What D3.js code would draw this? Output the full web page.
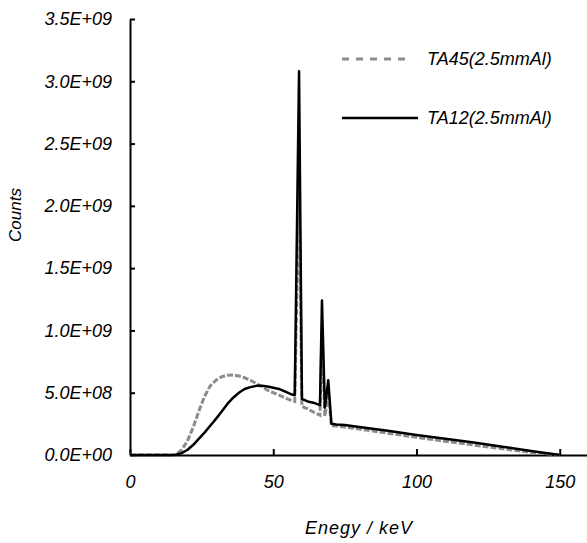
<!DOCTYPE html>
<html>
<head>
<meta charset="utf-8">
<script src="https://cdn.jsdelivr.net/npm/d3@7"></script>
<style>
  body { margin: 0; background: #fff; }
  text { font-family: "Liberation Sans", Arial, sans-serif; font-style: italic; fill: #000; }
  .axis path, .axis line { stroke: #000; stroke-width: 2; }
  .axis text { font-size: 18px; }
</style>
</head>
<body>
<svg id="chart" width="587" height="543"></svg>
<script>
// energy grid (keV) shared by both spectra
const energy = [0, 10, 15, 16, 18, 20, 22, 24, 26, 28, 30, 32, 34, 36, 38, 40, 42, 44, 46, 48, 50,
  52, 54, 56, 57.5, 59, 60, 62, 64, 66.3, 67, 68, 69.2, 70.3, 72, 75, 80, 90, 100, 110, 120, 130, 140, 150];

// TA45 (2.5mmAl) counts
const ta45 = [0, 0, 0, 0.003e9, 0.04e9, 0.11e9, 0.22e9, 0.35e9, 0.47e9, 0.555e9, 0.6e9, 0.628e9, 0.64e9, 0.642e9,
  0.635e9, 0.62e9, 0.6e9, 0.575e9, 0.55e9, 0.52e9, 0.5e9, 0.48e9, 0.46e9, 0.44e9, 0.43e9, 2.2e9, 0.39e9,
  0.37e9, 0.345e9, 0.32e9, 1.0e9, 0.31e9, 0.5e9, 0.235e9, 0.232e9, 0.225e9, 0.208e9, 0.175e9, 0.142e9,
  0.11e9, 0.08e9, 0.05e9, 0.022e9, 0];

// TA12 (2.5mmAl) counts
const ta12 = [0, 0, 0, 0.002e9, 0.015e9, 0.04e9, 0.08e9, 0.13e9, 0.18e9, 0.235e9, 0.29e9, 0.35e9, 0.41e9, 0.46e9,
  0.5e9, 0.53e9, 0.545e9, 0.555e9, 0.555e9, 0.55e9, 0.54e9, 0.53e9, 0.51e9, 0.49e9, 0.48e9, 3.08e9, 0.45e9,
  0.43e9, 0.42e9, 0.4e9, 1.24e9, 0.38e9, 0.6e9, 0.25e9, 0.245e9, 0.24e9, 0.225e9, 0.195e9, 0.16e9,
  0.13e9, 0.1e9, 0.067e9, 0.033e9, 0];

const seriesNames = ['TA45(2.5mmAl)', 'TA12(2.5mmAl)'];
const xTicks = [0, 50, 100, 150];
const yTicks = [0, 0.5e9, 1.0e9, 1.5e9, 2.0e9, 2.5e9, 3.0e9, 3.5e9];

const svg = d3.select('#chart');
const margin = { left: 130, top: 19 };
const innerWidth = 457;
const innerHeight = 436;

const chart = svg.append('g')
  .attr('transform', `translate(${margin.left},${margin.top})`);

const xScale = d3.scaleLinear().domain([0, 159.5]).range([0, innerWidth]);
const yScale = d3.scaleLinear().domain([0, 3.5e9]).range([innerHeight, 0]);

// Excel style 3.5E+09
const sci = d => {
  const [m, e] = d.toExponential(1).split('e');
  const n = +e;
  return m + 'E' + (n < 0 ? '-' : '+') + String(Math.abs(n)).padStart(2, '0');
};

const xAxis = d3.axisBottom(xScale)
  .tickValues(xTicks)
  .tickSizeInner(-6)
  .tickSizeOuter(0)
  .tickPadding(20);

const yAxis = d3.axisLeft(yScale)
  .tickValues(yTicks)
  .tickFormat(sci)
  .tickSizeInner(-5)
  .tickSizeOuter(0)
  .tickPadding(18);

chart.append('g')
  .attr('class', 'axis x-axis')
  .attr('transform', `translate(0,${innerHeight})`)
  .call(xAxis);

chart.append('g')
  .attr('class', 'axis y-axis')
  .call(yAxis);

chart.selectAll('.axis .tick text').attr('fill', '#000');

// axis titles
svg.append('text')
  .attr('x', 359)
  .attr('y', 534)
  .attr('text-anchor', 'middle')
  .style('font-size', '18px')
  .style('letter-spacing', '1px')
  .text('Enegy / keV');

svg.append('text')
  .attr('transform', 'translate(21,215) rotate(-90)')
  .attr('text-anchor', 'middle')
  .style('font-size', '17px')
  .text('Counts');

// spectra
const line = ys => d3.line()
  .x(d => xScale(d))
  .y((d, i) => yScale(ys[i]));

chart.append('path')
  .attr('d', line(ta45)(energy))
  .attr('fill', 'none')
  .attr('stroke', '#8c8c8c')
  .attr('stroke-width', 3)
  .attr('stroke-dasharray', '6,2');

chart.append('path')
  .attr('d', line(ta12)(energy))
  .attr('fill', 'none')
  .attr('stroke', '#000')
  .attr('stroke-width', 2.5)
  .attr('stroke-linejoin', 'round');

// legend
const legend = svg.append('g');
const styles = [
  { stroke: '#8c8c8c', width: 3, dash: '7,7', y: 59, x2: 412 },
  { stroke: '#000', width: 2.5, dash: null, y: 118, x2: 418 }
];
styles.forEach((s, i) => {
  legend.append('line')
    .attr('x1', 342).attr('x2', s.x2)
    .attr('y1', s.y).attr('y2', s.y)
    .attr('stroke', s.stroke)
    .attr('stroke-width', s.width)
    .attr('stroke-dasharray', s.dash);
  legend.append('text')
    .attr('x', 427)
    .attr('y', s.y)
    .attr('dy', '0.35em')
    .style('font-size', '18px')
    .text(seriesNames[i]);
});
</script>
</body>
</html>
